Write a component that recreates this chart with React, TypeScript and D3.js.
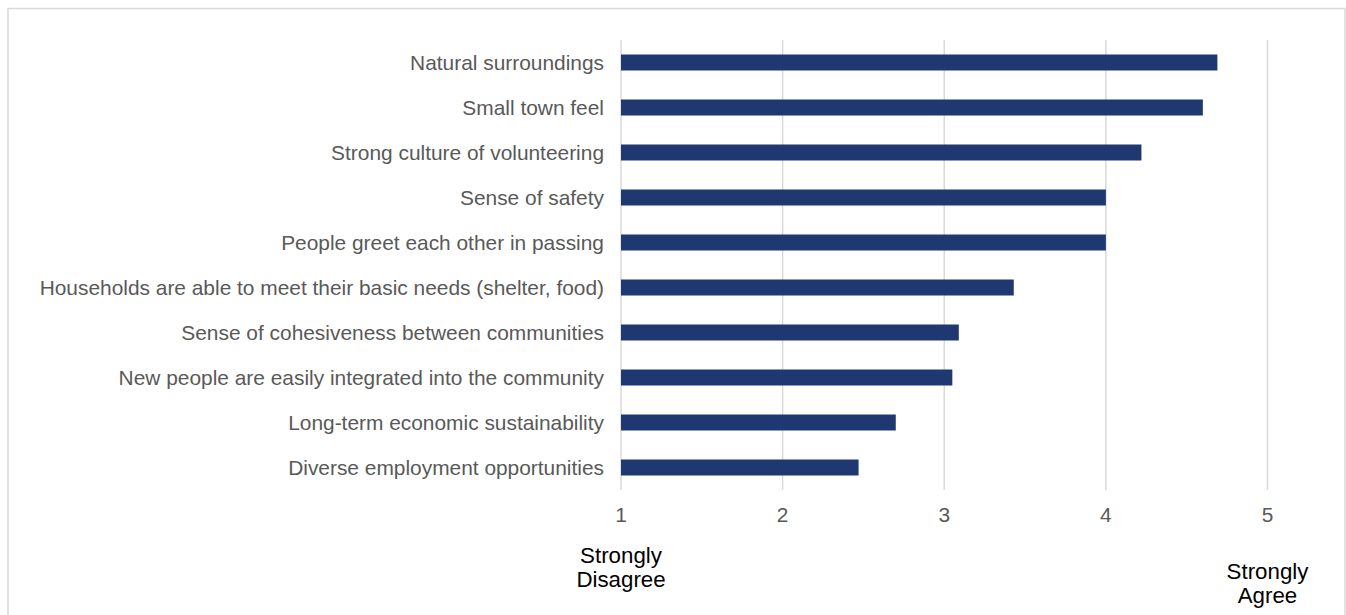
import React from "react";
import * as d3 from "d3";

const categories = [
  "Natural surroundings",
  "Small town feel",
  "Strong culture of volunteering",
  "Sense of safety",
  "People greet each other in passing",
  "Households are able to meet their basic needs (shelter, food)",
  "Sense of cohesiveness between communities",
  "New people are easily integrated into the community",
  "Long-term economic sustainability",
  "Diverse employment opportunities",
];
const values = [4.69, 4.6, 4.22, 4.0, 4.0, 3.43, 3.09, 3.05, 2.7, 2.47];
const ticks = [1, 2, 3, 4, 5];

export default function App() {
  const W = 1346, H = 615;
  const x = d3.scaleLinear().domain([1, 5]).range([621, 1267.5]);
  const y = d3.scaleBand<string>().domain(categories).range([40, 490]).paddingInner(29 / 45).paddingOuter(29 / 90);
  const font = "'Liberation Sans', Arial, sans-serif";
  return (
    <svg width={W} height={H} style={{ position: "absolute", left: 0, top: 0 }}>
      <rect x={8} y={8.5} width={1337} height={700} fill="#fff" stroke="#d9d9d9" strokeWidth={1.5} />
      {ticks.map((t) => (
        <line key={t} x1={x(t)} x2={x(t)} y1={40} y2={490} stroke="#d9d9d9" strokeWidth={1.5} />
      ))}
      {categories.map((c, i) => (
        <rect key={c} x={x(1)} y={y(c)!} width={x(values[i]) - x(1)} height={y.bandwidth()} fill="#1f3871" />
      ))}
      {categories.map((c) => (
        <text key={c} x={604} y={y(c)! + y.bandwidth() / 2} dy="0.35em" textAnchor="end" fontFamily={font} fontSize={20.9} fill="#595959">
          {c}
        </text>
      ))}
      {ticks.map((t) => (
        <text key={t} x={x(t)} y={515} dy="0.35em" textAnchor="middle" fontFamily={font} fontSize={20.9} fill="#595959">
          {t}
        </text>
      ))}
      <text x={x(1)} y={563} textAnchor="middle" fontFamily={font} fontSize={22.3} fill="#000">
        <tspan x={x(1)}>Strongly</tspan>
        <tspan x={x(1)} dy={24}>Disagree</tspan>
      </text>
      <text x={x(5)} y={579} textAnchor="middle" fontFamily={font} fontSize={22.3} fill="#000">
        <tspan x={x(5)}>Strongly</tspan>
        <tspan x={x(5)} dy={24}>Agree</tspan>
      </text>
    </svg>
  );
}
